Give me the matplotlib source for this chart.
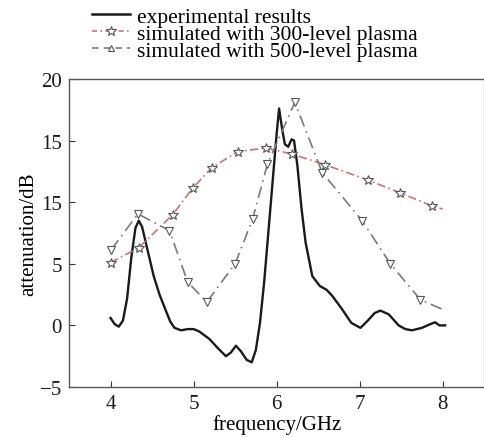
import matplotlib
matplotlib.use("Agg")
import matplotlib.pyplot as plt
from matplotlib.lines import Line2D

plt.rcParams['font.family'] = ['Liberation Serif', 'DejaVu Serif']

# --- donnees ---
exp_x = [4.00, 4.05, 4.10, 4.15, 4.20, 4.25, 4.30, 4.34, 4.38, 4.45, 4.52, 4.59,
         4.66, 4.72, 4.77, 4.85, 4.93, 5.00, 5.07, 5.19, 5.30, 5.39, 5.45, 5.51,
         5.57, 5.64, 5.70, 5.75, 5.80, 5.85, 5.90, 5.95, 6.00, 6.03, 6.07, 6.10,
         6.14, 6.18, 6.21, 6.25, 6.30, 6.35, 6.43, 6.52, 6.60, 6.67, 6.79, 6.90,
         7.01, 7.10, 7.18, 7.25, 7.35, 7.47, 7.55, 7.63, 7.75, 7.85, 7.91, 7.96, 8.03]
exp_y = [0.6, 0.1, -0.1, 0.4, 2.2, 5.5, 7.9, 8.5, 8.0, 6.0, 4.0, 2.5,
         1.3, 0.3, -0.2, -0.4, -0.3, -0.3, -0.5, -1.1, -1.9, -2.5, -2.2, -1.65,
         -2.1, -2.8, -3.0, -2.0, 0.2, 3.5, 7.5, 11.5, 15.5, 17.6, 15.8, 14.7,
         14.5, 15.1, 15.0, 13.0, 9.5, 6.7, 4.0, 3.2, 2.9, 2.4, 1.3, 0.2,
         -0.2, 0.4, 1.0, 1.2, 0.9, 0.0, -0.3, -0.4, -0.2, 0.1, 0.25, 0.0, 0.0]

sim300_x = [4.00, 4.34, 4.75, 4.99, 5.22, 5.53, 5.87, 6.19, 6.58, 7.10, 7.49, 7.87, 8.00]
sim300_y = [5.1, 6.3, 9.0, 11.15, 12.8, 14.1, 14.4, 13.9, 13.05, 11.8, 10.75, 9.7, 9.45]

sim500_x = [4.01, 4.33, 4.71, 4.93, 5.16, 5.50, 5.71, 5.89, 6.22, 6.55, 7.03, 7.37, 7.73, 8.03]
sim500_y = [6.15, 9.05, 7.7, 3.5, 1.9, 5.0, 8.6, 13.1, 18.1, 12.4, 8.5, 5.0, 2.1, 1.2]

xticks = [4, 5, 6, 7, 8]
yticks = [-5, 0, 5, 10, 15, 20]
ytick_labels = ['\u22125', '0', '5', '15', '15', '20']

labels = ['experimental results',
          'simulated with 300-level plasma',
          'simulated with 500-level plasma']

# --- figure ---
fig = plt.figure(figsize=(4.85, 4.39), dpi=100)
ax = fig.add_axes([0.1423, 0.1162, 0.856, 0.7016])

ax.plot(exp_x, exp_y, color='#1a1a1a', lw=1.7)
ax.plot(sim300_x, sim300_y, color='#d07070', lw=1.2, ls=(0, (5, 2, 1, 2)),
        marker='*', ms=7, mfc='white', mec='#555555', mew=0.8,
        markevery=list(range(len(sim300_x) - 1)))
ax.plot(sim500_x, sim500_y, color='#7a7a7a', lw=1.2, ls=(0, (7, 3, 1, 3)),
        marker='v', ms=5.5, mfc='white', mec='#555555', mew=0.8,
        markevery=list(range(len(sim500_x) - 1)))

ax.set_xlim(3.5, 8.5)
ax.set_ylim(-5, 20)
ax.set_xticks(xticks)
ax.set_yticks(yticks)
ax.set_yticklabels(ytick_labels)
ax.tick_params(direction='in', length=4, width=0.8, labelsize=15, colors='#333333',
               labelcolor='#1a1a1a', pad=5)
for s in ax.spines.values():
    s.set_color('#555555')
    s.set_linewidth(1.0)
ax.spines['right'].set_color('#bbbbbb')

ax.set_xlabel('frequency/GHz', fontsize=15, labelpad=1)
ax.set_ylabel('attenuation/dB', fontsize=15, labelpad=1)

handles = [
    Line2D([], [], color='#1a1a1a', lw=1.8),
    Line2D([], [], color='#d07070', lw=1.2, ls=(0, (3, 2, 1, 2)), marker='*', ms=7,
           mfc='white', mec='#555555', mew=0.8),
    Line2D([], [], color='#7a7a7a', lw=1.2, ls=(0, (4, 3)), marker='^', ms=5,
           mfc='white', mec='#555555', mew=0.8),
]
fig.legend(handles, labels, loc='upper left', bbox_to_anchor=(0.19, 0.982),
           frameon=False, fontsize=15.5, handlelength=1.75, handletextpad=0.35,
           labelspacing=-0.15, borderpad=0, borderaxespad=0)

fig.savefig('out.png', dpi=100)
